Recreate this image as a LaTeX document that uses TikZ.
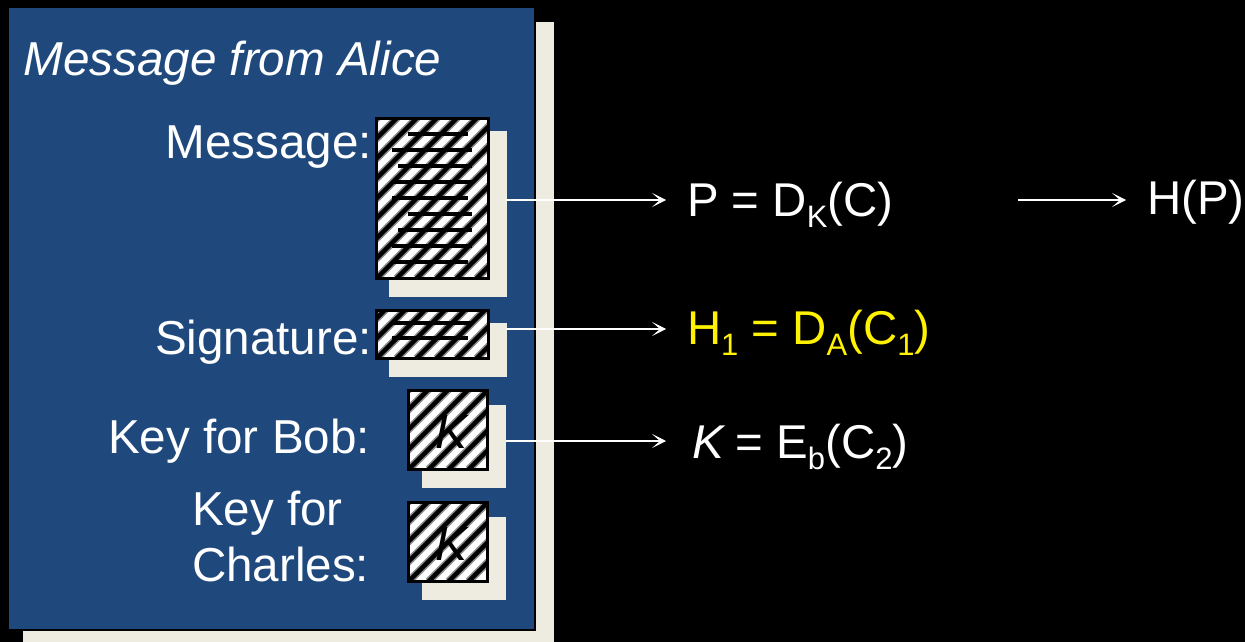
\documentclass[tikz,border=0pt]{standalone}
\usepackage{fontspec}
\setmainfont{Liberation Sans}
\usetikzlibrary{arrows.meta}
\definecolor{panelblue}{RGB}{31,73,125}
\definecolor{shadowcream}{RGB}{238,236,225}
\newcommand{\lowered}[1]{\raisebox{-11pt}{\fontsize{31}{33}\selectfont #1}}
\tikzset{
  x=1pt,y=-1pt,
  backing/.style={rectangle,fill=shadowcream,inner sep=0pt,outer sep=0pt},
  paper/.style={rectangle,inner sep=0pt,outer sep=0pt,fill=white,draw=black,
    path picture={\foreach \i in {-180,-160,...,120}{
      \draw[black!45,line width=7.5pt] ([xshift=\i pt]path picture bounding box.south west) -- ++(200,-200);
      \draw[black,line width=4.5pt] ([xshift=\i pt]path picture bounding box.south west) -- ++(200,-200);}}},
  label/.style={inner sep=0pt,outer sep=0pt,text=white,font=\fontsize{47.6}{54}\selectfont},
  result/.style={inner sep=0pt,outer sep=0pt,text=white,anchor=base west,font=\fontsize{47.4}{54}\selectfont},
  keyletter/.style={anchor=base,inner sep=0pt,text=black,font=\fontsize{48}{54}\selectfont\itshape},
  link/.style={white,line width=2.4pt,-{Stealth[length=14pt,width=14pt,inset=8pt,line width=0.8pt]}},
  textline/.style={black,line width=3.5pt},
}
\begin{document}
\begin{tikzpicture}
\useasboundingbox (0,0) rectangle (1245,642);
\fill[black] (0,0) rectangle (1245,642);
% panel
\node[backing,minimum width=531pt,minimum height=620pt] (panelshadow) at (288.5,332) {};
\fill[panelblue] (9,8) rectangle (535,630);
\draw[black,line width=2.5pt] (535,8) -- (535,630) -- (9,630);
\node[label,anchor=base west] (title) at (23.5,75) {\itshape Message from Alice};
% shadows
\node[backing,minimum width=118pt,minimum height=166pt] (s1) at (448,214) {};
\node[backing,minimum width=118pt,minimum height=54pt] (s2) at (448,350) {};
\node[backing,minimum width=84pt,minimum height=83pt] (s3) at (464,446.5) {};
\node[backing,minimum width=84pt,minimum height=83pt] (s4) at (464,558.5) {};
% documents
\node[paper,line width=3.5pt,minimum width=112pt,minimum height=160pt] (d1) at (432.5,198.5) {};
\node[paper,line width=3.5pt,minimum width=112pt,minimum height=48pt] (d2) at (432.5,334.5) {};
\node[paper,line width=2.5pt,minimum width=79pt,minimum height=79pt] (d3) at (448,430) {};
\node[paper,line width=2.5pt,minimum width=79pt,minimum height=79pt] (d4) at (448,542) {};
\foreach \a/\b/\y in {408/468/134,392/472/150,398/472/166,392/472/182,392/468/198,408/472/214,398/472/230,392/472/246,392/468/262,392/472/323,392/468/338}
  \draw[textline] (\a,\y) -- (\b,\y);
\node[keyletter] (k1) at (452,448) {K};
\node[keyletter] (k2) at (452,560) {K};
% labels
\node[label,anchor=base east] (lm) at (372,158) {Message:};
\node[label,anchor=base east] (ls) at (372,354) {Signature:};
\node[label,anchor=base east] (lb) at (370,453) {Key for Bob:};
\node[label,anchor=base west] (lc1) at (192,525) {Key for};
\node[label,anchor=base west] (lc2) at (192,581) {Charles:};
% results
\node[result] (p) at (687,216) {P = D\lowered{K}(C)};
\node[result,text=yellow] (h1) at (687,344) {H\lowered{1} = D\lowered{A}(C\lowered{1})};
\node[result] (k) at (692,458) {\textit{K}\kern-3pt{} = E\lowered{b}(C\lowered{2})};
\node[result] (hp) at (1147,214) {H(P)};
% connectors
\coordinate (a1) at (506,200); \coordinate (b1) at (666,200);
\coordinate (a2) at (506,329); \coordinate (b2) at (666,329);
\coordinate (a3) at (506,441); \coordinate (b3) at (666,441);
\coordinate (a4) at (1018,200); \coordinate (b4) at (1126,200);
\draw[link] (a1) -- (b1);
\draw[link] (a2) -- (b2);
\draw[link] (a3) -- (b3);
\draw[link] (a4) -- (b4);
\end{tikzpicture}
\end{document}
